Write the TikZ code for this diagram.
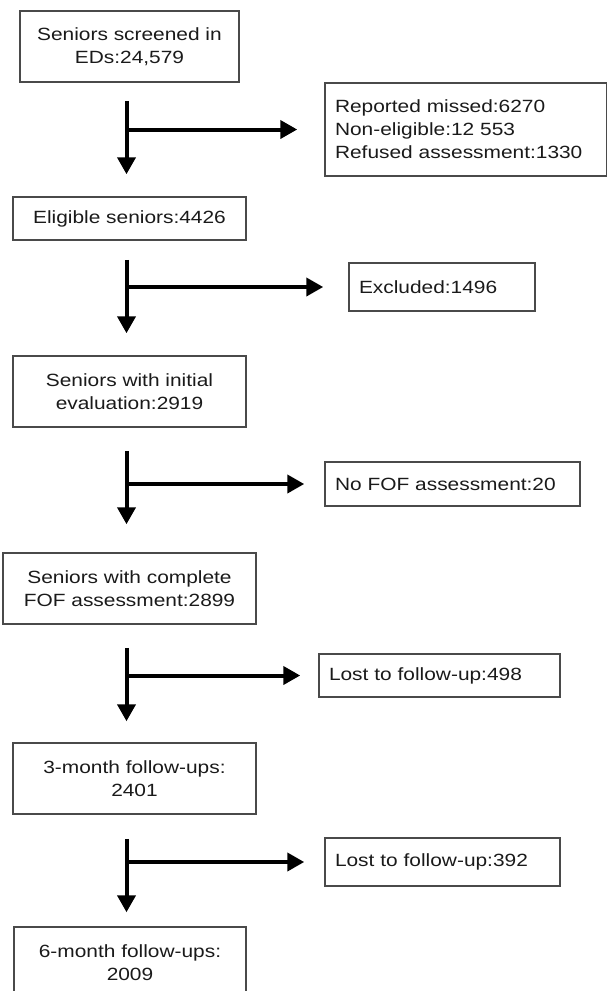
\documentclass[tikz,border=0pt]{standalone}
\usepackage{fontspec}
\setmainfont{Liberation Sans}[FakeStretch=1.18]
\usetikzlibrary{arrows.meta,calc}
\definecolor{borde}{HTML}{4A4A4A}
\definecolor{tinta}{HTML}{1A1A1A}
\tikzset{
  every node/.style = {font=\fontsize{17.7}{23}\selectfont, text=tinta},
  caja/.style       = {draw=borde, line width=1.5pt, inner sep=0pt, align=center},
  salida/.style     = {caja, align=left, inner xsep=10pt},
  flecha/.style     = {-{Triangle[width=18pt,length=17pt]}, draw=black, line width=4pt},
}
\begin{document}
\begin{tikzpicture}[x=1pt,y=-1pt]
\useasboundingbox (0,0) rectangle (606,991);

% =============================================================================
% Columna principal
% =============================================================================
\node[caja, minimum width=219pt, minimum height=71pt] (scr) at (129.5,46.5) {Seniors screened in\\EDs:24,579};
\node[caja, minimum width=233pt, minimum height=43pt] (eli) at (129.5,218.5) {Eligible seniors:4426};
\node[caja, minimum width=233pt, minimum height=71pt] (ini) at (129.5,391.5) {Seniors with initial\\evaluation:2919};
\node[caja, minimum width=253pt, minimum height=71pt] (fof) at (129.5,588.5) {Seniors with complete\\FOF assessment:2899};
\node[caja, minimum width=243pt, minimum height=71pt] (tres) at (134.5,778.5) {3-month follow-ups:\\2401};
\node[caja, minimum width=232pt, minimum height=71pt] (seis) at (130,962.5) {6-month follow-ups:\\2009};

% =============================================================================
% Salidas
% =============================================================================
\node[salida, text width=262pt, minimum height=93pt] (mis) at (466,129.5) {Reported missed:6270\\Non-eligible:12 553\\Refused assessment:1330};
\node[salida, text width=166pt, minimum height=48pt] (exc) at (442,287) {Excluded:1496};
\node[salida, text width=235pt, minimum height=44pt] (nof) at (452.5,484) {No FOF assessment:20};
\node[salida, text width=221pt, minimum height=43pt] (p498) at (439.5,675.5) {Lost to follow-up:498};
\node[salida, text width=215pt, minimum height=48pt] (p392) at (442.5,862) {Lost to follow-up:392};

% =============================================================================
% Flechas
% =============================================================================
\coordinate (eje) at (126.5,0);
\foreach \desde/\hasta/\lado/\gi/\gf/\gh in {scr/eli/mis/18pt/22pt/27pt, eli/ini/exc/19pt/22pt/25pt,
    ini/fof/nof/23pt/28pt/20pt, fof/tres/p498/23pt/21pt/18pt, tres/seis/p392/24pt/14pt/20pt}{
  \draw[flecha, shorten <=\gi, shorten >=\gf] (eje |- \desde.south) -- (eje |- \hasta.north);
  \draw[flecha, shorten >=\gh] (eje |- \lado.west) -- (\lado.west);
}

\end{tikzpicture}
\end{document}
